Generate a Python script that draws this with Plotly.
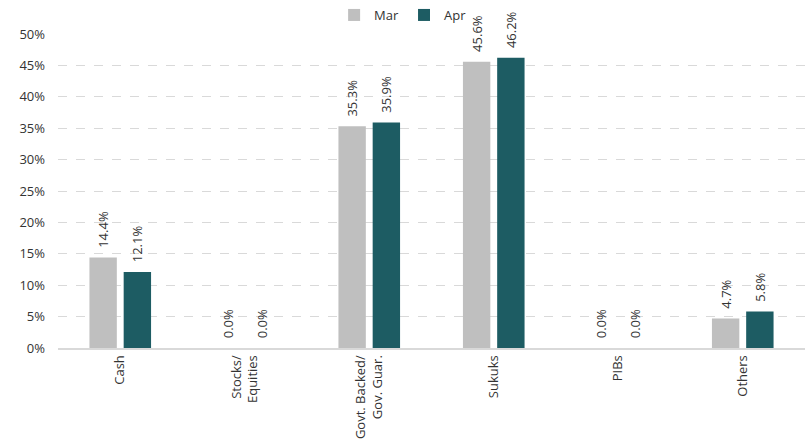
import plotly.graph_objects as go

categories = ["Cash", "Stocks/<br>Equities", "Govt. Backed/<br>Gov. Guar.", "Sukuks", "PIBs", "Others"]
mar_values = [14.4, 0.0, 35.3, 45.6, 0.0, 4.7]
apr_values = [12.1, 0.0, 35.9, 46.2, 0.0, 5.8]
series_names = ["Mar", "Apr"]
series_colors = ["#BFBFBF", "#1D5C63"]

PAD = "\u00a0\u00a0"  # small lift between the bar top and its rotated label

fig = go.Figure()
for name, vals, color in zip(series_names, [mar_values, apr_values], series_colors):
    fig.add_trace(go.Bar(
        name=name,
        x=categories,
        y=[v / 100 for v in vals],
        marker=dict(color=color, line=dict(width=0)),
        text=[f"{PAD}{v:.1f}%" for v in vals],
        textposition="outside",
        textangle=-90,
        constraintext="none",
        textfont=dict(family="Open Sans", size=13, color="#333333"),
        cliponaxis=False,
    ))

fig.update_layout(
    width=805, height=443,
    margin=dict(l=58, r=0, t=34, b=95, autoexpand=False),
    paper_bgcolor="white",
    plot_bgcolor="white",
    barmode="group",
    bargap=0.45,
    bargroupgap=0.2,
    font=dict(family="Open Sans", size=13, color="#333333"),
    legend=dict(orientation="h", x=0.462, xanchor="center", y=1.0, yanchor="top",
                yref="container", font=dict(size=13), itemwidth=30,
                tracegroupgap=0),
    xaxis=dict(tickangle=-90, tickfont=dict(size=13), showline=True,
               linecolor="#D9D9D9", linewidth=2, ticks=""),
    yaxis=dict(range=[0, 0.5], dtick=0.05, tickformat=".0%", showgrid=True,
               gridcolor="#D9D9D9", griddash="dash", zeroline=False,
               ticklabelstandoff=12, tickfont=dict(size=13)),
)
fig.write_html("out.html")
